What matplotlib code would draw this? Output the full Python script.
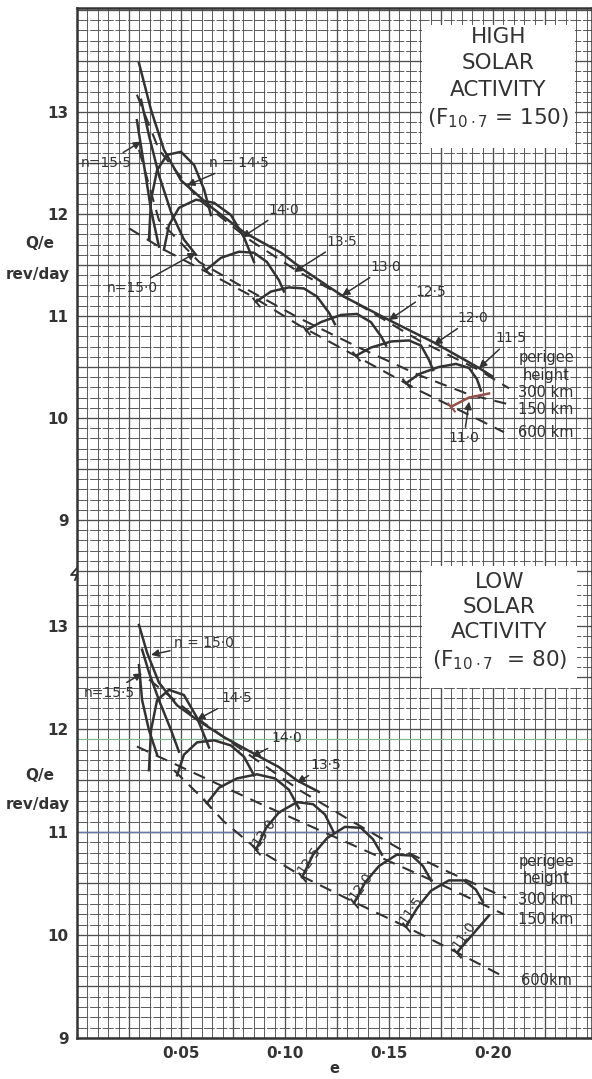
import numpy as np
import matplotlib.pyplot as plt
from matplotlib.lines import Line2D
from matplotlib.patches import Rectangle

# ---------------- data: high solar activity (F10.7 = 150) ----------------
hi_levels = ['15·5', '15·0', '14·5', '14·0', '13·5', '13·0', '12·5', '12·0', '11·5', '11·0']
hi_arc_e = [
    [0.0288, 0.0322, 0.0356, 0.0394],
    [0.0308, 0.0346, 0.0394, 0.0452, 0.0514, 0.0572],
    [0.0346, 0.0356, 0.0385, 0.0433, 0.0500, 0.0563, 0.0611, 0.0644],
    [0.0418, 0.0442, 0.0490, 0.0572, 0.0659, 0.0740, 0.0803, 0.0851],
    [0.0620, 0.0692, 0.0779, 0.0851, 0.0913, 0.0971, 0.0995],
    [0.0861, 0.0933, 0.1019, 0.1091, 0.1154, 0.1212, 0.1240],
    [0.1101, 0.1173, 0.1269, 0.1346, 0.1413, 0.1462, 0.1486],
    [0.1341, 0.1413, 0.1510, 0.1596, 0.1654, 0.1692, 0.1712],
    [0.1582, 0.1644, 0.1740, 0.1822, 0.1885, 0.1923, 0.1942],
    [0.1798, 0.1885, 0.1981],
]
hi_arc_q = [
    [12.92, 12.48, 12.04, 11.68],
    [13.12, 12.77, 12.38, 12.02, 11.75, 11.60],
    [11.75, 12.14, 12.43, 12.58, 12.61, 12.48, 12.24, 11.99],
    [11.65, 11.89, 12.06, 12.14, 12.11, 11.99, 11.77, 11.53],
    [11.45, 11.57, 11.63, 11.62, 11.53, 11.35, 11.24],
    [11.14, 11.24, 11.28, 11.27, 11.19, 11.03, 10.92],
    [10.86, 10.94, 11.01, 11.02, 10.94, 10.80, 10.71],
    [10.61, 10.69, 10.75, 10.76, 10.71, 10.57, 10.47],
    [10.34, 10.43, 10.50, 10.53, 10.49, 10.38, 10.27],
    [10.11, 10.20, 10.24],
]
hi_top_e = [0.0298, 0.0356, 0.0418, 0.0500, 0.0644, 0.0803, 0.0981, 0.1091, 0.1274, 0.1500, 0.1716, 0.1933, 0.1995]
hi_top_q = [13.48, 13.02, 12.63, 12.33, 12.07, 11.82, 11.62, 11.45, 11.20, 10.96, 10.74, 10.49, 10.41]

hi_h300_e = [0.0288, 0.0394, 0.0587, 0.0827, 0.1067, 0.1356, 0.1644, 0.1933, 0.2077]
hi_h300_q = [13.17, 12.63, 12.14, 11.75, 11.43, 11.11, 10.76, 10.47, 10.29]
hi_h150_e = [0.0298, 0.0394, 0.0587, 0.0827, 0.1067, 0.1356, 0.1644, 0.1885, 0.2063]
hi_h150_q = [12.63, 11.94, 11.53, 11.25, 10.98, 10.69, 10.42, 10.23, 10.14]
hi_h600_e = [0.0250, 0.0418, 0.0587, 0.0827, 0.1067, 0.1356, 0.1644, 0.1885, 0.2053]
hi_h600_q = [11.86, 11.65, 11.47, 11.21, 10.91, 10.59, 10.27, 10.03, 9.86]

# ---------------- data: low solar activity (F10.7 = 80) ----------------
lo_levels = ['15·5', '15·0', '14·5', '14·0', '13·5', '13·0', '12·5', '12·0', '11·5', '11·0']
lo_arc_e = [
    [0.0298, 0.0313, 0.0346, 0.0385],
    [0.0313, 0.0346, 0.0394, 0.0452, 0.0490],
    [0.0346, 0.0356, 0.0385, 0.0442, 0.0514, 0.0577, 0.0635],
    [0.0481, 0.0514, 0.0577, 0.0659, 0.0740, 0.0803, 0.0851],
    [0.0625, 0.0683, 0.0769, 0.0865, 0.0952, 0.1019, 0.1067],
    [0.0861, 0.0909, 0.0971, 0.1058, 0.1135, 0.1192, 0.1236],
    [0.1082, 0.1135, 0.1202, 0.1288, 0.1365, 0.1423, 0.1466],
    [0.1332, 0.1385, 0.1452, 0.1538, 0.1611, 0.1663, 0.1702],
    [0.1582, 0.1635, 0.1702, 0.1788, 0.1861, 0.1918, 0.1952],
    [0.1827, 0.1904, 0.1981],
]
lo_arc_q = [
    [12.62, 12.28, 11.99, 11.75],
    [12.77, 12.55, 12.28, 11.99, 11.78],
    [11.60, 11.99, 12.28, 12.38, 12.33, 12.11, 11.82],
    [11.55, 11.75, 11.87, 11.89, 11.84, 11.73, 11.55],
    [11.28, 11.43, 11.52, 11.56, 11.52, 11.41, 11.23],
    [10.83, 11.04, 11.19, 11.29, 11.27, 11.17, 10.99],
    [10.56, 10.78, 10.94, 11.05, 11.04, 10.93, 10.78],
    [10.31, 10.51, 10.67, 10.78, 10.77, 10.67, 10.53],
    [10.08, 10.26, 10.43, 10.53, 10.53, 10.44, 10.32],
    [9.83, 10.01, 10.19],
]
lo_top_e = [0.0298, 0.0337, 0.0394, 0.0481, 0.0577, 0.0707, 0.0851, 0.0971, 0.1058, 0.1163]
lo_top_q = [13.01, 12.74, 12.45, 12.23, 12.09, 11.92, 11.76, 11.63, 11.50, 11.39]

lo_h300_e = [0.0346, 0.0587, 0.0827, 0.1067, 0.1308, 0.1548, 0.1788, 0.2063]
lo_h300_q = [12.48, 12.09, 11.75, 11.41, 11.12, 10.84, 10.61, 10.36]
lo_h150_e = [0.0288, 0.0587, 0.0875, 0.1163, 0.1452, 0.1740, 0.2053]
lo_h150_q = [11.83, 11.55, 11.28, 11.02, 10.76, 10.50, 10.20]
lo_h600_e = [0.0466, 0.0587, 0.0707, 0.0861, 0.1082, 0.1332, 0.1582, 0.1827, 0.2038]
lo_h600_q = [11.60, 11.36, 11.10, 10.84, 10.57, 10.32, 10.08, 9.83, 9.61]

x_ticks = [0.05, 0.10, 0.15, 0.20]
x_ticklabels = ['0·05', '0·10', '0·15', '0·20']

INK = '#333333'
GRID = '#505050'
W, H = 592, 1079

plt.rcParams['font.family'] = ['DejaVu Sans']

fig = plt.figure(figsize=(W / 100, H / 100), dpi=100)


def px_rect(x0, y0, x1, y1):
    return [x0 / W, 1 - y1 / H, (x1 - x0) / W, (y1 - y0) / H]


ax_hi = fig.add_axes(px_rect(77, 8, 592, 575))
ax_lo = fig.add_axes(px_rect(77, 575, 592, 1038))


def graph_paper(ax, ylo, yhi):
    ax.set_xlim(0, 0.2476)
    ax.set_ylim(ylo, yhi)
    for x in np.arange(0.005, 0.2476, 0.005):
        heavy = abs(x / 0.025 - round(x / 0.025)) < 1e-6
        ax.axvline(x, color=GRID, lw=0.95 if heavy else 0.65, zorder=0)
    for y in np.arange(np.ceil(ylo * 10) / 10, yhi, 0.1):
        heavy = abs(y * 2 - round(y * 2)) < 1e-6
        ax.axhline(y, color=GRID, lw=0.95 if heavy else 0.65,
                   ls='-' if heavy else (0, (12, 2)), zorder=0)
    ax.tick_params(length=0, labelsize=11, colors=INK, pad=6)
    for s in ax.spines.values():
        s.set_color(INK)
        s.set_linewidth(1.8)


def draw_family(ax, arc_e, arc_q, top_e, top_q, h300, h150, h600, red_last=False):
    dash = (0, (6, 4))
    for e, q in (h300, h150, h600):
        ax.plot(e, q, color=INK, lw=1.5, ls=dash, zorder=2)
    ax.plot(top_e, top_q, color=INK, lw=1.8, zorder=3, solid_joinstyle='round')
    for i, (e, q) in enumerate(zip(arc_e, arc_q)):
        col = '#94504a' if (red_last and i == len(arc_e) - 1) else INK
        ax.plot(e, q, color=col, lw=1.8, zorder=3, solid_joinstyle='round')
        # short stroke across the start of each n = const curve
        if i >= 4:
            ax.plot(e[0], q[0], marker=(2, 0, 40), ms=9, mew=1.4, color=col, zorder=3)


graph_paper(ax_hi, 8.46, 14.02)
graph_paper(ax_lo, 9.0, 13.495)

draw_family(ax_hi, hi_arc_e, hi_arc_q, hi_top_e, hi_top_q,
            (hi_h300_e, hi_h300_q), (hi_h150_e, hi_h150_q), (hi_h600_e, hi_h600_q),
            red_last=True)
draw_family(ax_lo, lo_arc_e, lo_arc_q, lo_top_e, lo_top_q,
            (lo_h300_e, lo_h300_q), (lo_h150_e, lo_h150_q), (lo_h600_e, lo_h600_q))

# faint coloured rulings on the lower sheet
ax_lo.axhline(11.9, color='#86b892', lw=0.9, zorder=1)
ax_lo.axhline(11.0, color='#6677a6', lw=1.0, zorder=1)

ax_hi.spines['bottom'].set_visible(False)
ax_lo.spines['top'].set_visible(False)
ax_hi.set_xticks([])
ax_hi.set_yticks([9, 10, 11, 12, 13])
ax_lo.set_yticks([9, 10, 11, 12, 13])
ax_lo.set_xticks(x_ticks)
ax_lo.set_xticklabels(x_ticklabels)
for ax in (ax_hi, ax_lo):
    for t in ax.get_yticklabels() + ax.get_xticklabels():
        t.set_fontweight('bold')
ax_lo.set_xlabel('e', fontsize=10.5, color=INK, fontweight='bold', labelpad=0)

arrow = dict(arrowstyle='-|>', color=INK, lw=1.1, mutation_scale=11, shrinkA=1, shrinkB=0)
lab = dict(fontsize=10, color=INK, ha='center', va='center')

# arrows and labels, high activity
hi_notes = [
    ('n=15·5', (0.0308, 12.71), (0.0139, 12.50)),
    ('n = 14·5', (0.0529, 12.28), (0.0779, 12.50)),
    ('14·0', (0.0793, 11.77), (0.0995, 12.04)),
    ('n=15·0', (0.0572, 11.62), (0.0264, 11.27)),
    ('13·5', (0.1043, 11.43), (0.1274, 11.73)),
    ('13·0', (0.1274, 11.20), (0.1486, 11.48)),
    ('12·5', (0.1500, 10.96), (0.1702, 11.24)),
    ('12·0', (0.1716, 10.72), (0.1904, 10.98)),
    ('11·5', (0.1933, 10.49), (0.2087, 10.78)),
    ('11·0', (0.1885, 10.16), (0.1860, 9.80)),
]
for txt, tip, pos in hi_notes:
    ax_hi.annotate(txt, xy=tip, xytext=pos, arrowprops=arrow, **lab)

lo_notes = [
    ('n = 15·0', (0.0356, 12.72), (0.0611, 12.83)),
    ('n=15·5', (0.0313, 12.54), (0.0154, 12.35)),
    ('14·5', (0.0577, 12.09), (0.0769, 12.30)),
    ('14·0', (0.0841, 11.73), (0.1010, 11.91)),
    ('13·5', (0.1058, 11.48), (0.1197, 11.65)),
]
for txt, tip, pos in lo_notes:
    ax_lo.annotate(txt, xy=tip, xytext=pos, arrowprops=arrow, **lab)

# rotated labels along the rising branches, low activity
for txt, e, q in [('13·0', 0.0899, 11.00), ('12·5', 0.1115, 10.73), ('12·0', 0.1365, 10.47),
                  ('11·5', 0.1606, 10.24), ('11·0', 0.1861, 10.00)]:
    ax_lo.text(e, q, txt, rotation=55, **lab)

# perigee height keys
per = dict(fontsize=10.5, color=INK, ha='center', va='center', zorder=5)
for ax, rows in [(ax_hi, [('perigee', 10.59), ('height', 10.42), ('300 km', 10.25),
                          ('150 km', 10.08), ('600 km', 9.86)]),
                 (ax_lo, [('perigee', 10.71), ('height', 10.55), ('300 km', 10.34),
                          ('150 km', 10.15), ('600km', 9.56)])]:
    for txt, q in rows:
        ax.text(0.2255, q, txt, **per)


# title boxes
def title_box(x0, y0, x1, y1, lines, ys):
    fig.add_artist(Rectangle((x0 / W, 1 - y1 / H), (x1 - x0) / W, (y1 - y0) / H,
                             transform=fig.transFigure, fc='white', ec='none', zorder=6))
    cx = (x0 + x1) / 2 / W
    for txt, y in zip(lines, ys):
        fig.text(cx, 1 - y / H, txt, ha='center', va='center', fontsize=15.5,
                 color=INK, zorder=7)


title_box(422, 25, 575, 148,
          ['HIGH', 'SOLAR', 'ACTIVITY', r'(F$_{\mathregular{10\cdot7}}$ = 150)'],
          [37, 63, 90, 118])
title_box(422, 566, 577, 688,
          ['LOW', 'SOLAR', 'ACTIVITY', r'(F$_{\mathregular{10\cdot7}}$  = 80)'],
          [582, 607, 632, 660])

# axis captions
for y1, y2 in [(243, 275), (775, 805)]:
    fig.text(40 / W, 1 - y1 / H, 'Q/e', ha='center', va='center', fontsize=11,
             color=INK, fontweight='bold')
    fig.text(38 / W, 1 - y2 / H, 'rev/day', ha='center', va='center', fontsize=11,
             color=INK, fontweight='bold')

# break mark on the ordinate
bx = np.array([77, 71, 77, 75]) / W
by = 1 - np.array([568, 575, 575, 580]) / H
fig.add_artist(Line2D(bx, by, transform=fig.transFigure, color=INK, lw=1.3))

fig.savefig('out.png', dpi=100, facecolor='white')
